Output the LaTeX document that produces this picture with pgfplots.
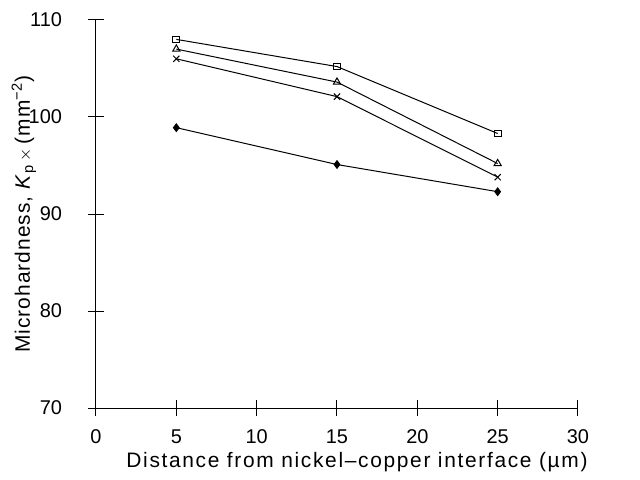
\documentclass[border=0pt]{standalone}
\usepackage{fontspec}
\setmainfont{Liberation Sans}
\newfontfamily\xlabelfont[LetterSpace=8]{Liberation Sans}
\newfontfamily\ylabelfont[LetterSpace=5]{Liberation Sans}
\usepackage{pgfplots}
\pgfplotsset{compat=1.18}

\begin{document}
\fontsize{10pt}{12pt}\selectfont
\begin{tikzpicture}
\begin{axis}[
  scale only axis,
  width=241bp, height=194bp,
  xmin=0, xmax=30, ymin=70, ymax=110,
  xtick={0,5,...,30}, ytick={70,80,...,110},
  axis lines*=left,
  axis line style={line width=0.5pt, -},
  tick style={line width=0.5pt, black},
  tick align=center,
  major tick length=8bp,
  /pgf/number format/assume math mode=true,
  tick label style={font=\fontsize{10pt}{12pt}\selectfont},
  xticklabel shift=3.5bp,
  yticklabel style={anchor=east, xshift=-9.5bp},
  every axis x label/.style={at={(axis description cs:0.5,0)}, xshift=10bp, yshift=-27bp, anchor=center},
  every axis y label/.style={at={(axis description cs:0,0.5)}, xshift=-36bp, rotate=90, anchor=center},
  xlabel style={font=\xlabelfont\fontsize{10.5pt}{12.5pt}\selectfont},
  ylabel style={font=\ylabelfont\fontsize{10.5pt}{12.5pt}\selectfont},
  xlabel={Distance from nickel–copper interface (µm)},
  ylabel={Microhardness, \textit{K}\textsubscript{p}\,{\footnotesize$\times$}\,(mm\textsuperscript{−2})},
  every axis plot/.append style={black, line width=0.5pt},
  clip=false,
]
  \coordinate (sw) at (rel axis cs:0,0);
  \coordinate (ne) at (rel axis cs:1,1);
  \addplot[mark=square, mark size=1.7pt] coordinates {(5,108.0) (15,105.2) (25,98.3)};
  \addplot[mark=triangle, mark size=2.1pt] coordinates {(5,107.0) (15,103.6) (25,95.2)};
  \addplot[mark=x, mark size=2.2pt] coordinates {(5,106.0) (15,102.1) (25,93.8)};
  \addplot[mark=diamond*, mark size=1.9pt] coordinates {(5,98.9) (15,95.1) (25,92.3)};
\end{axis}
\path ([shift={(-48bp,-36bp)}]sw) rectangle ([shift={(31bp,10bp)}]ne);
\end{tikzpicture}
\end{document}
